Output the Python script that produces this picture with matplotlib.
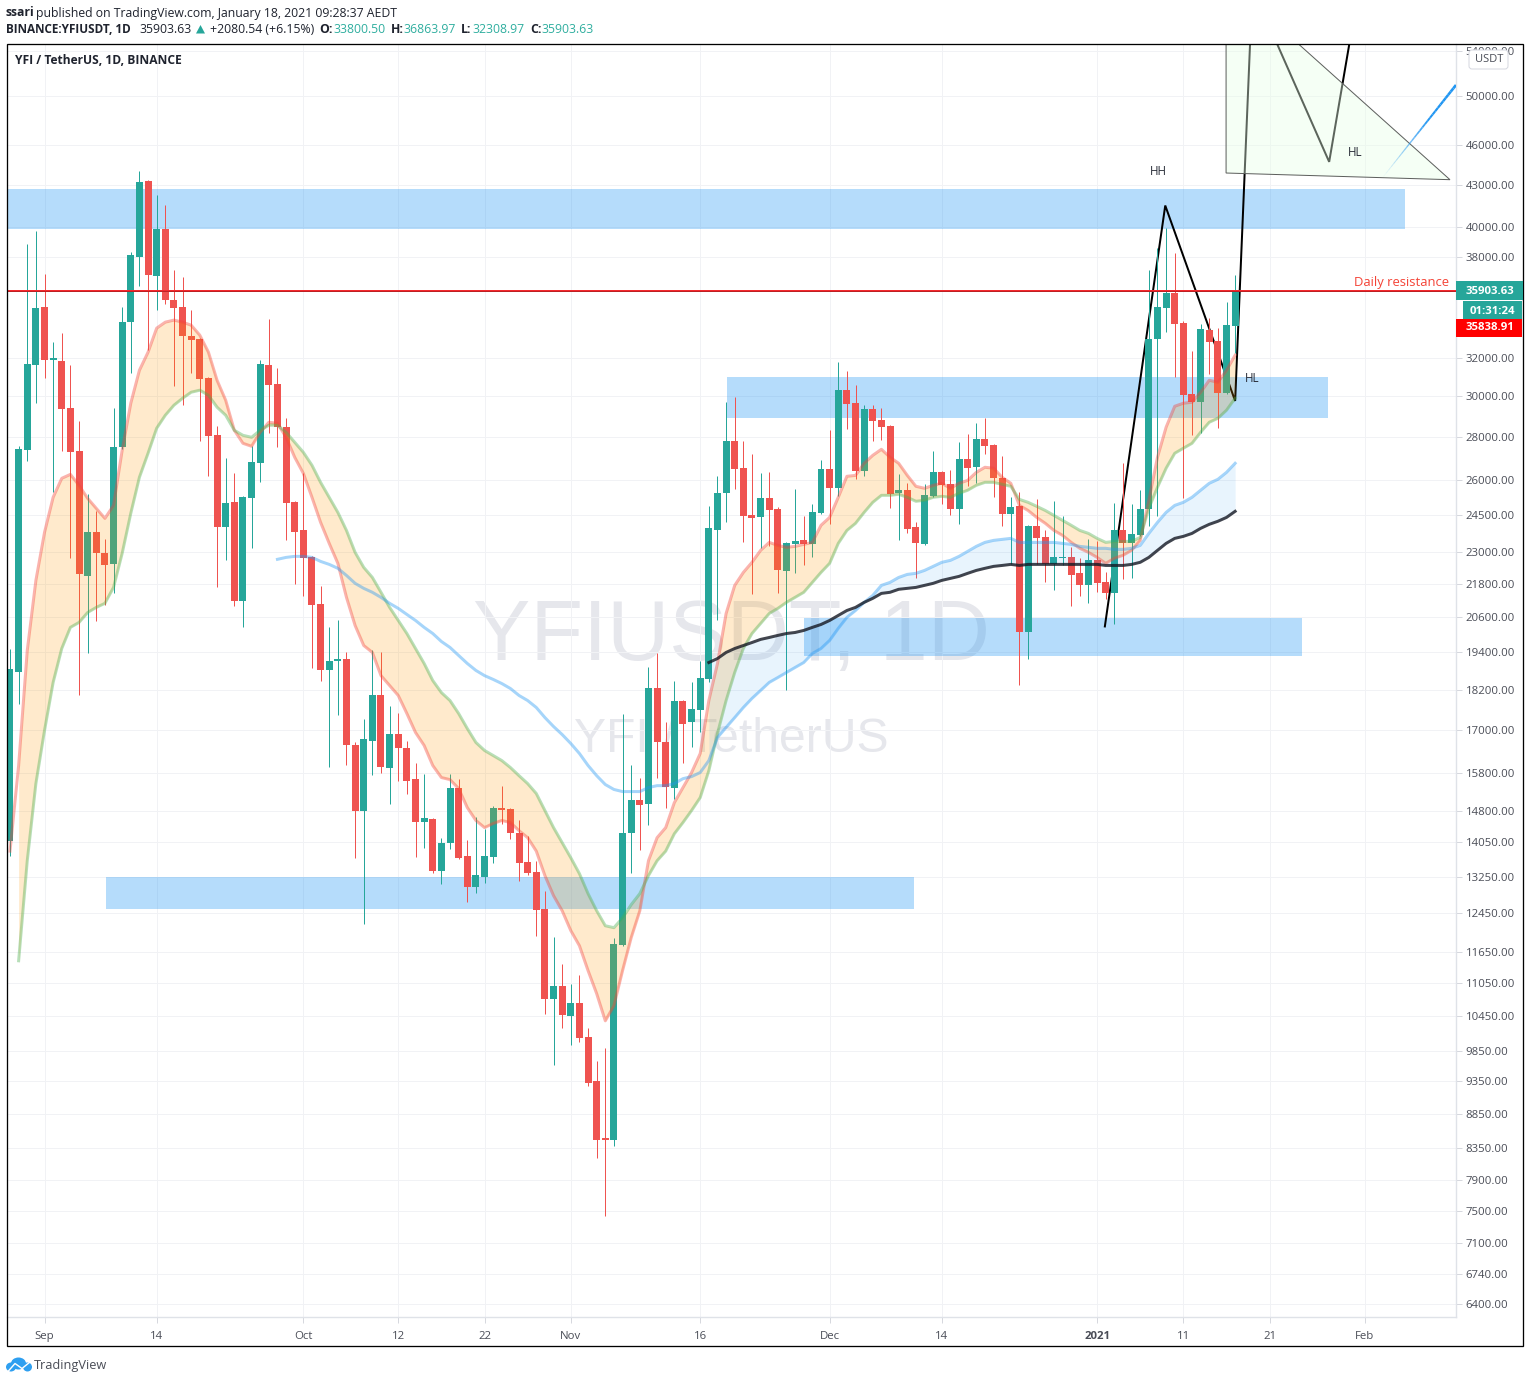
import numpy as np
import matplotlib
matplotlib.use("Agg")
import matplotlib.pyplot as plt
from matplotlib.patches import Rectangle, Polygon, Ellipse, FancyBboxPatch
from matplotlib.collections import LineCollection
from matplotlib.ticker import NullLocator, FixedLocator, FixedFormatter

opens = [14084,18750,27365,31625,34910,31890,31835,29395,27315,22080,
 23795,22960,22535,27505,34030,38010,43265,36800,39870,35330,
 34910,33227,33055,30930,28070,24000,25045,21160,25215,26765,
 31625,30620,28460,25045,23875,22805,21050,18815,19105,19170,
 16585,14825,16700,18030,15950,16900,16500,15650,14545,14600,
 13385,14035,15415,13730,13023,13247,13706,14900,14875,14275,
 13590,13360,12545,10760,11000,10455,10690,10087,9360,8495,
 8465,11800,14275,15105,15000,18275,16670,15415,17875,17220,
 17575,18530,23875,25430,27785,26540,24495,24410,25215,24745,
 22270,23315,23475,23315,24580,26495,25650,30310,29645,26400,
 29345,28800,28506,25430,25565,24000,23315,25302,26355,25825,
 24745,26950,26585,27880,27600,26090,24540,24875,20070,24042,
 23595,22535,22770,22805,22195,21745,22690,21855,21450,23875,
 23355,23675,24745,33055,34850,35750,33975,30100,29695,33570,
 32945,30150,33800.5]
highs = [19500,27551,38860,39730,36925,32890,33395,31625,28750,25390,
 24665,23515,29395,34910,38335,43995,43340,42245,41530,37180,
 36740,34730,33115,30985,28506,26995,26310,25302,27551,31890,
 34205,31465,28895,25090,26310,22845,21707,20245,20485,19400,
 16670,17335,19465,19400,17695,17515,16700,16085,15785,14625,
 14155,15785,15650,14110,14672,14375,14950,15465,14900,14575,
 14205,13610,12935,11960,11420,11040,11210,10245,9685,9900,
 11940,17485,16005,15680,18910,19365,17220,18465,17905,18435,
 19135,24875,26179,29695,29945,27785,27180,26310,26355,24830,
 23395,25605,24455,24960,26900,28310,31785,31300,30565,29545,
 29545,29395,28555,26265,25870,24205,25825,27315,26400,26445,
 27735,28120,28650,28895,27645,27086,25260,25475,24085,25170,
 23875,25090,24455,23200,22770,23515,23435,22230,25000,26765,
 24960,25565,37180,38600,39935,38270,34090,32390,33915,34260,
 33680,35210,36863.97]
lows = [13730,17785,26855,29645,30930,25475,27315,22770,18030,19365,
 20450,21015,21450,27410,31195,36180,32445,34730,35090,30515,
 29545,31195,27785,26179,21670,22690,20980,20245,23160,25910,
 28165,27505,23475,21780,21341,18880,18465,15976,17455,16005,
 13680,12225,15760,15815,15000,15600,15260,13706,13915,13340,
 13090,13895,13660,12695,12890,13110,13565,14500,14135,13155,
 13295,11980,10490,9617,10245,9950,10000,9280,8210,7437,
 8380,11778,13340,13850,14475,15680,14900,15130,16060,16530,
 16930,18435,20485,24205,25605,23395,21415,23160,23237,21450,
 18185,22195,22495,22805,24540,24125,25302,28360,26045,26179,
 27785,27830,24790,23475,23755,22005,23275,25260,24960,24495,
 24125,25737,25870,27180,25260,24042,22535,18340,19170,22535,
 21855,21560,22495,20980,21341,21090,21490,21235,20345,21965,
 22005,23636,24042,24455,33450,30985,25215,28070,28165,31140,
 28410,30100,32308.97]
closes = [18846,27410,31680,34850,31890,32000,29345,27270,22155,23795,
 22960,22495,27505,34030,38140,43190,36865,39870,35330,34850,
 33227,33000,30880,28024,24000,25000,21160,25260,26810,31680,
 30565,28460,25000,23795,22770,21015,18815,19135,19170,16560,
 14825,16730,18030,15976,16900,16500,15600,14545,14625,13385,
 14035,15415,13680,13023,13290,13730,14900,14850,14275,13565,
 13340,12525,10760,11000,10470,10690,10070,9327,8465,8465,
 11820,14275,15105,14975,18275,16645,15441,17875,17190,17605,
 18560,23960,25430,27785,26495,24455,24370,25215,24700,22305,
 23355,23435,23315,24620,26495,25650,30310,29595,26400,29345,
 28750,28460,25390,25565,23920,23355,25345,26355,25780,24745,
 26950,26540,27880,27551,26090,24540,24830,20070,24042,23555,
 22535,22805,22805,22115,21745,22690,21820,21450,23875,23355,
 23715,24745,33055,34910,35750,33915,30050,29695,33625,32890,
 30150,33855,35903.63]

salmon = [13835,16005,19465,21930,23795,25260,26090,26265,25780,25215,
 24790,24370,24915,27365,29645,31355,32335,33685,34030,34150,
 34030,33855,33285,32335,30825,29795,28310,27690,27551,28215,
 28700,28650,27975,27040,26310,25260,24205,23355,22575,21305,
 20310,19630,19400,18650,18340,18030,17485,16930,16560,16005,
 15680,15625,15390,14900,14575,14400,14500,14575,14525,14325,
 14155,13835,13270,12825,12500,12085,11778,11290,10855,10365,
 10635,11290,11940,12500,13610,14155,14400,15025,15415,15815,
 16335,17875,19040,20730,21745,22230,22615,23080,23395,23275,
 23200,23237,23315,23395,24085,24410,25260,26179,26220,26765,
 27130,27410,27040,26765,26220,25737,25650,25780,25870,25650,
 25870,26000,26355,26585,26540,26135,25870,24915,24700,24410,
 24165,23875,23675,23395,23160,23000,22805,22575,22770,22885,
 23080,23475,25130,27040,28460,29493,29645,29695,30205,30825,
 30720,31355,32170]
slow_green = [11480,13610,15520,16985,18435,19530,20245,20415,20765,20945,
 21090,21670,22960,24580,26135,27225,28410,29045,29545,29895,
 30205,30310,30050,29445,29045,28310,28070,27975,28310,28555,
 28555,28215,27735,27270,26675,25910,25260,24620,23875,23000,
 22420,22040,21490,20945,20485,20035,19530,19040,18495,18120,
 17875,17485,17045,16645,16420,16280,16140,15950,15730,15520,
 15260,14825,14400,14035,13680,13315,12870,12500,12185,12145,
 12350,12630,12870,13270,13610,13835,14250,14525,14825,15155,
 15865,16900,17875,18750,19530,20035,20380,20730,20910,21125,
 21305,21490,21855,22230,22575,23355,23875,24165,24620,25045,
 25345,25345,25390,25260,25090,25130,25260,25302,25260,25430,
 25565,25780,25910,25910,25825,25737,25170,25045,24875,24700,
 24495,24290,24085,23875,23755,23555,23395,23435,23435,23435,
 23595,24790,25695,26540,27225,27460,27690,28215,28700,28895,29295,29895]
blue_ma = [22730,22805,22845,22845,22805,22650,22535,22385,22115,21820,
 21635,21490,21305,21090,20910,20695,20485,20245,20035,19765,
 19565,19300,19040,18815,18650,18530,18400,18245,18030,17875,
 17665,17365,17102,16870,16615,16335,16005,15730,15495,15365,
 15310,15310,15310,15415,15465,15465,15520,15650,15706,15815,
 16140,16785,17075,17365,17665,17940,18185,18435,18590,18750,
 18910,19070,19365,19530,19800,20210,20590,20835,21125,21375,
 21745,21855,22040,22155,22195,22305,22459,22615,22690,22845,
 23040,23237,23395,23475,23515,23555,23395,23395,23395,23395,
 23395,23355,23315,23237,23200,23160,23160,23120,23120,23160,
 23275,23755,24205,24620,24915,25045,25260,25565,25870,26045,26355,26765]
dark_ma = [19070,19200,19400,19530,19630,19730,19835,19900,19970,20035,
 20070,20140,20245,20345,20485,20660,20835,20945,21125,21270,
 21450,21490,21600,21635,21670,21745,21820,21930,22005,22080,
 22195,22305,22385,22459,22495,22535,22495,22535,22535,22535,
 22535,22535,22535,22535,22535,22535,22495,22495,22495,22535,
 22615,22805,23080,23355,23555,23636,23755,23960,24125,24250,24410,24665]
salmon_start, green_start, blue_start, dark_start = 0, 1, 31, 81

# zones: bar-from, bar-to, low price, high price
zone_from = [-0.35, 83.1, 92.0, 11.1]
zone_to = [161.7, 152.8, 149.8, 104.8]
zone_low = [39870, 28895, 19268, 12545]
zone_high = [42680, 30985, 20555, 13245]

path_bars = [126.9, 133.9, 142.0, 144.0, 152.9, 156.5]
path_prices = [20277, 41500, 29760, 60090, 44700, 60900]
tri_bars = [140.95, 166.9, 140.95]
tri_prices = [43860, 43365, 61000]
arrow_bars = [158.9, 167.6]
arrow_prices = [43365, 50945]
resistance = 35903.63

y_ticks = [54000,50000,46000,43000,40000,38000,32000,30000,28000,26000,24500,23000,
 21800,20600,19400,18200,17000,15800,14800,14050,13250,12450,11650,11050,10450,
 9850,9350,8850,8350,7900,7500,7100,6740,6400]
x_tick_bars = [4,17,34,45,55,65,80,95,108,126,136,146,157]
x_tick_labels = ['Sep','14','Oct','12','22','Nov','16','Dec','14','2021','11','21','Feb']

UI = 'Open Sans'
WM = 'Liberation Sans'
UP, DOWN = '#26a69a', '#ef5350'
px = 0.72  # points per pixel at dpi 100

W, H = 1529, 1383
fig = plt.figure(figsize=(W/100, H/100), dpi=100, facecolor='white')
L, R, T, B = 7, 1456, 44, 1317
ax = fig.add_axes([L/W, 1-B/H, (R-L)/W, (B-T)/H])
ax.set_yscale('log')
ax.set_xlim(-0.348, 167.6)
ax.set_ylim(6262, 54627)
ax.set_axisbelow(True)
ax.grid(True, color='#f1f2f5', lw=1*px)
ax.yaxis.set_minor_locator(NullLocator())
ax.yaxis.set_major_locator(FixedLocator(y_ticks))
ax.yaxis.set_major_formatter(FixedFormatter([f'{v:.2f}' for v in y_ticks]))
ax.yaxis.tick_right()
ax.xaxis.set_major_locator(FixedLocator(x_tick_bars))
ax.xaxis.set_major_formatter(FixedFormatter(x_tick_labels))
ax.tick_params(axis='y', length=4, width=1*px, color='#d6d8de', labelsize=8.2,
               labelcolor='#4a4d57', pad=3)
ax.tick_params(axis='x', length=4, width=1*px, color='#d6d8de', labelsize=8.2,
               labelcolor='#4a4d57', pad=6)
for t in ax.get_xticklabels() + ax.get_yticklabels():
    t.set_fontfamily(UI)
ax.get_xticklabels()[x_tick_labels.index('2021')].set_fontweight('bold')
for s in ['top', 'left']:
    ax.spines[s].set_visible(False)
for s in ['right', 'bottom']:
    ax.spines[s].set_color('#dfe2e8')
    ax.spines[s].set_linewidth(1.4*px)

# watermark
ax.text(0.4997, 0.5335, 'YFIUSDT, 1D', transform=ax.transAxes, ha='center', va='center',
        fontsize=62, color='#e6e7ec', family=WM, zorder=0.5)
ax.text(0.4997, 0.4535, 'YFI / TetherUS', transform=ax.transAxes, ha='center', va='center',
        fontsize=34.7, color='#e6e7ec', family=WM, zorder=0.5)

# zones
for a, b, lo, hi in zip(zone_from, zone_to, zone_low, zone_high):
    ax.fill_between([a, b], lo, hi, color='#2196f3', alpha=0.33, lw=0, zorder=1)

# black hand-drawn path
ax.plot(path_bars, path_prices, color='#000000', lw=2*px, zorder=1.5, solid_joinstyle='miter')
# triangle drawing veils the path
ax.fill(tri_bars, tri_prices, facecolor=(232/255, 1, 232/255, 0.4), edgecolor='#5d5f5d',
        lw=1*px, zorder=1.6)

# candles
idx = np.arange(len(opens))
o, h, l, c = map(np.array, (opens, highs, lows, closes))
cols = [UP if cc >= oo else DOWN for oo, cc in zip(o, c)]
ax.vlines(idx, l, h, colors=cols, lw=1*px, zorder=2)
ax.bar(idx, np.maximum(np.abs(c-o), 1), bottom=np.minimum(o, c), width=0.81, color=cols, lw=0, zorder=2.1)

# indicators
sx = np.arange(salmon_start, salmon_start+len(salmon))
gx = np.arange(green_start, green_start+len(slow_green))
bx = np.arange(blue_start, blue_start+len(blue_ma))
dx = np.arange(dark_start, dark_start+len(dark_ma))
ax.fill_between(gx, np.array(salmon)[green_start-salmon_start:], slow_green,
                color='#ff9800', alpha=0.2, lw=0, zorder=3)
ax.fill_between(dx, np.array(blue_ma)[dark_start-blue_start:], dark_ma,
                color='#2196f3', alpha=0.1, lw=0, zorder=3)
ax.plot(sx, salmon, color='#f44336', alpha=0.4, lw=3*px, zorder=3.2)
ax.plot(gx, slow_green, color='#4caf50', alpha=0.4, lw=3*px, zorder=3.2)
ax.plot(bx, blue_ma, color='#2196f3', alpha=0.4, lw=3*px, zorder=3.2)
ax.plot(dx, dark_ma, color='#131722', alpha=0.8, lw=3*px, zorder=3.3)

# resistance line
ax.axhline(resistance, color='#f4282d', lw=2*px, zorder=4)
ax.axhline(resistance, color='#8a1a1a', lw=1*px, ls=(0, (1, 1)), zorder=4.1)

# blue trend line with fade in
t = np.linspace(0, 1, 30)
tx = arrow_bars[0] + t*(arrow_bars[1]-arrow_bars[0])
ty = arrow_prices[0]*(arrow_prices[1]/arrow_prices[0])**t
segs = [[(tx[i], ty[i]), (tx[i+1], ty[i+1])] for i in range(len(t)-1)]
ax.add_collection(LineCollection(segs, colors=[(0.13, 0.59, 0.95, min(1, v*1.6)) for v in t[:-1]],
                                 linewidths=(0.6+2.2*t[:-1])*px, zorder=4))

# labels in chart
lab = dict(family=UI, fontsize=8.4, color='#2a2e39', ha='center', va='center', zorder=5)
ax.text(133.1, 44010, 'HH', **lab)
ax.text(144.0, 30930, 'HL', **lab)
ax.text(155.9, 45410, 'HL', **lab)
ax.text(166.8, 36435, 'Daily resistance', family=UI, fontsize=9.4, color='#f44336',
        ha='right', va='center', zorder=5)

# overlay chrome in pixel coordinates
ov = fig.add_axes([0, 0, 1, 1], zorder=10)
ov.set_xlim(0, W); ov.set_ylim(H, 0); ov.axis('off'); ov.patch.set_alpha(0)
ov.add_patch(Rectangle((6.5, 43.5), 1516.5, 1302.5, fill=False, ec='black', lw=1.3*px))
ov.add_patch(Rectangle((1456, 281), 67, 19, fc='#26a69a', ec='none'))
ov.add_patch(Rectangle((1463, 301), 59, 19, fc='#26a69a', ec='none'))
ov.add_patch(Rectangle((1456, 319), 66, 18, fc='#ff0000', ec='none'))
side = dict(family=UI, fontsize=8.2, fontweight='bold', color='white', ha='center', va='center')
ov.text(1489.5, 291, '35903.63', **side)
ov.text(1492.5, 311, '01:31:24', **side)
ov.text(1489.5, 328, '35838.91', **side)
ov.add_patch(FancyBboxPatch((1471, 52), 35, 15, boxstyle='round,pad=2,rounding_size=3',
                            fc='white', ec='#d6d8e0', lw=1*px))
ov.text(1489, 59, 'USDT', family=UI, fontsize=8, color='#4a4d57', ha='center', va='center')

tx_kw = dict(family=UI, fontsize=8.8, va='center', ha='left')
dk, tl = '#1f232e', '#2fae9f'
ov.text(6, 13, 'ssari', fontweight='bold', color=dk, **tx_kw)
ov.text(36.4, 13, 'published on TradingView.com, January 18, 2021 09:28:37 AEDT', color=dk, **tx_kw)
ov.text(6, 29.5, 'BINANCE:YFIUSDT, 1D', fontweight='bold', color=dk, **{**tx_kw, 'fontsize': 8.5})
ov.text(139, 29.5, '35903.63', color=dk, **tx_kw)
ov.add_patch(Polygon([(196, 33.5), (205, 33.5), (200.5, 25)], fc='#26a69a', ec='none'))
ov.text(209.5, 29.5, '+2080.54 (+6.15%)', color=dk, **tx_kw)
for xa, a, xb, b in [(319, 'O:', 333, '33800.50'), (391, 'H:', 403, '36863.97'),
                     (461, 'L:', 472.5, '32308.97'), (530, 'C:', 541, '35903.63')]:
    ov.text(xa, 29.5, a, fontweight='bold', color=dk, **tx_kw)
    ov.text(xb, 29.5, b, color=tl, **tx_kw)
ov.text(15, 60.5, 'YFI / TetherUS, 1D, BINANCE', fontweight='bold', color=dk,
        **{**tx_kw, 'fontsize': 8.65})

# TradingView logo
lc = '#2e9ff0'
ov.add_patch(Ellipse((11, 1367), 10, 9, fc=lc, ec='none'))
ov.add_patch(Ellipse((18.5, 1363.5), 15, 12, fc=lc, ec='none'))
ov.add_patch(Ellipse((27.5, 1367), 9, 9, fc=lc, ec='none'))
ov.plot([8, 15, 22, 30], [1371.5, 1363.5, 1368.5, 1362], color='white', lw=1.4*px)
ov.text(34, 1365, 'TradingView', family=UI, fontsize=9.2, color='#4a4d57', va='center', ha='left')

fig.savefig('out.png', dpi=100, facecolor='white')
